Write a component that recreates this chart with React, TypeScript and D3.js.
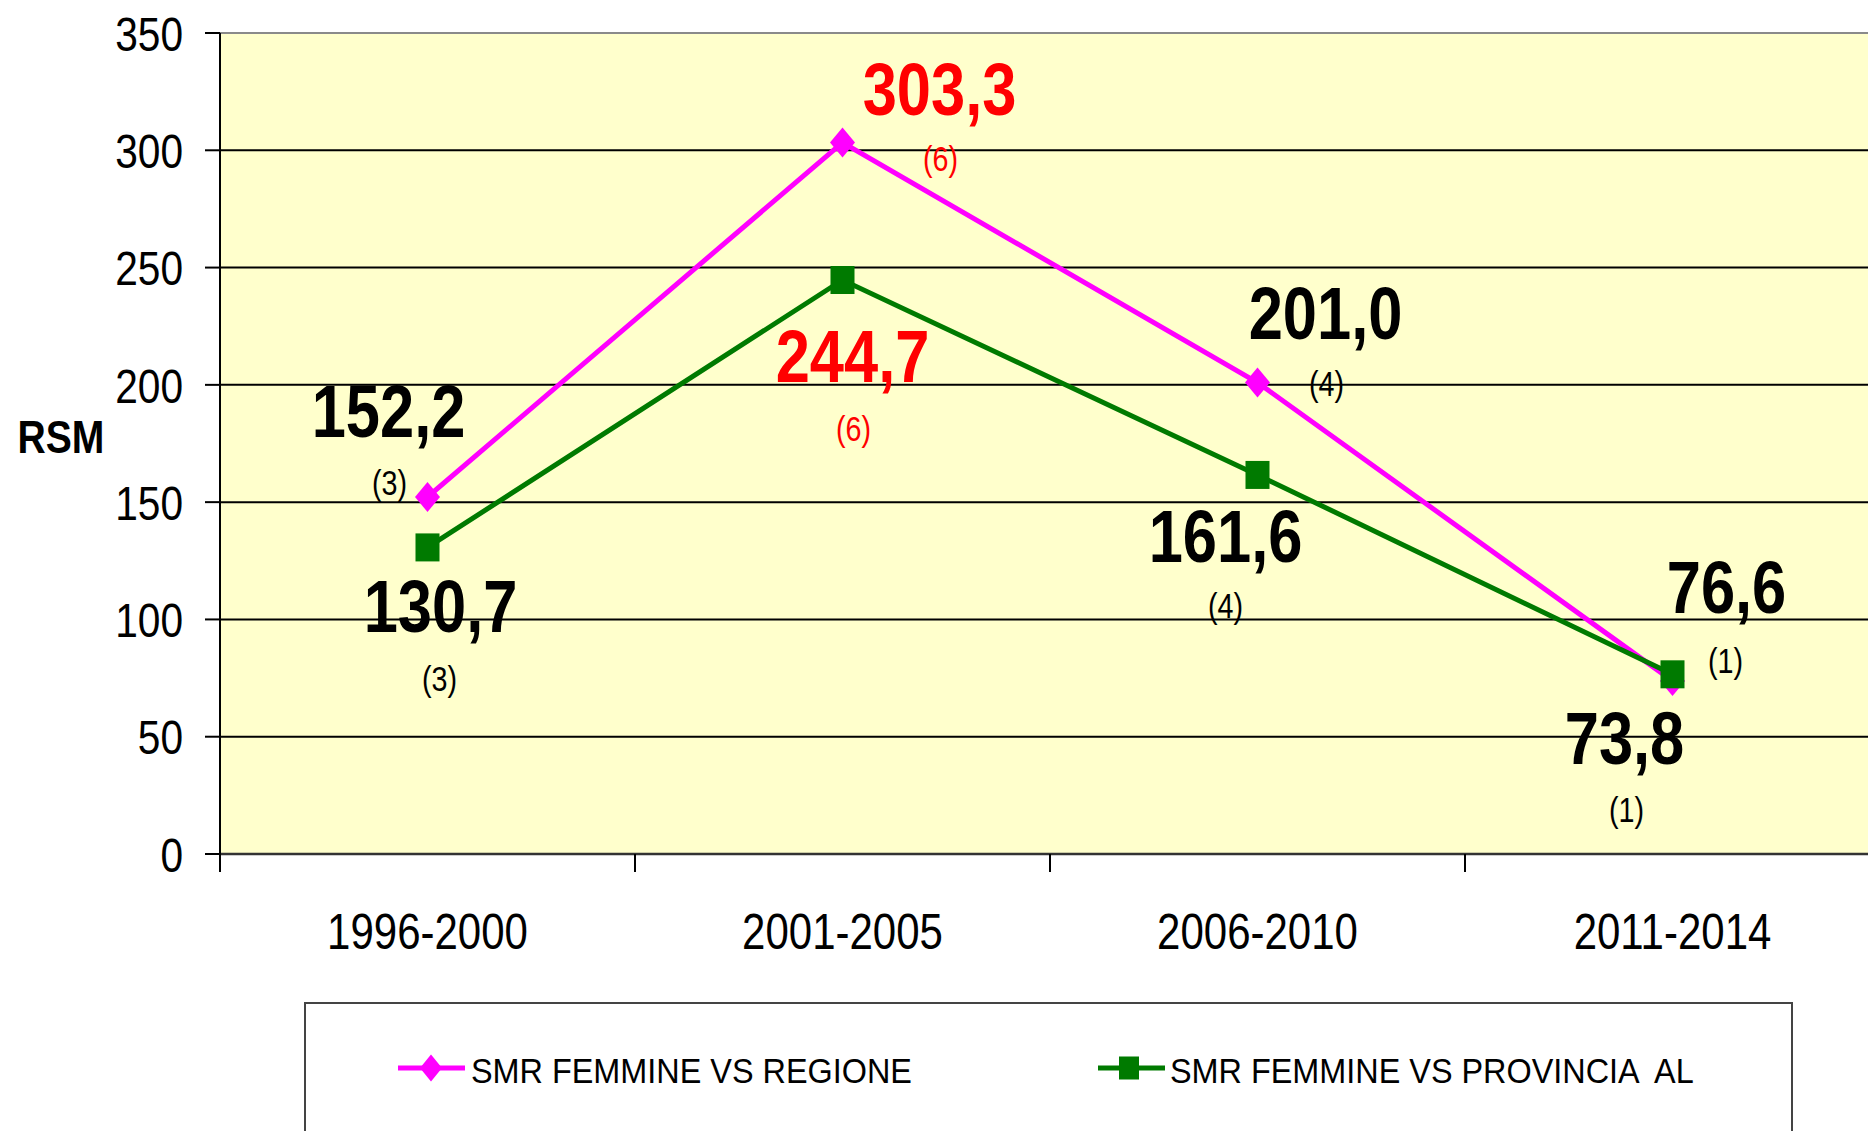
import { scaleBand, scaleLinear, line as d3Line } from 'd3'

const periods = ['1996-2000', '2001-2005', '2006-2010', '2011-2014']
const regioneValues = [152.2, 303.3, 201.0, 73.8]
const provinciaValues = [130.7, 244.7, 161.6, 76.6]
const regioneCases = [3, 6, 4, 1]
const provinciaCases = [3, 6, 4, 1]
const highlighted = ['2001-2005']
const yTicks = [0, 50, 100, 150, 200, 250, 300, 350]
const seriesNames = ['SMR FEMMINE VS REGIONE', 'SMR FEMMINE VS PROVINCIA  AL']

const WIDTH = 1868
const HEIGHT = 1131
const PLOT = { left: 220, top: 33, bottom: 854, band: 415 }
const PINK = '#ff00ff'
const GREEN = '#007a00'
const RED = '#ff0000'
const FONT = 'Liberation Sans, Arial, sans-serif'
// the source picture is stretched vertically, so text is squeezed in x
const SX = 0.83

// label offsets (value label, then case count) from each point, in px
const regioneOffsets = [
  [-39, -87, -38, -15],
  [97, -54, 98, 16],
  [68, -70, 69, 1],
  [-48, 56, -46, 129],
]
const provinciaOffsets = [
  [13, 58, 12, 131],
  [10, 75, 11, 148],
  [-32, 60, -32, 130],
  [54, -88, 53, -14],
]

function Label({ x, y, text, size, bold = false, fill = '#000', sx = SX, anchor = 'middle' }: {
  x: number
  y: number
  text: string
  size: number
  bold?: boolean
  fill?: string
  sx?: number
  anchor?: string
}) {
  return (
    <text
      transform={`translate(${x},${y}) scale(${sx},1)`}
      dy="0.36em"
      fontSize={size}
      fontWeight={bold ? 'bold' : 'normal'}
      fontFamily={FONT}
      fill={fill}
      textAnchor={anchor}
      style={{ whiteSpace: 'pre' }}
    >
      {text}
    </text>
  )
}

function Diamond({ x, y, w, h }: { x: number; y: number; w: number; h: number }) {
  return <path d={`M${x},${y - h / 2}L${x + w / 2},${y}L${x},${y + h / 2}L${x - w / 2},${y}Z`} fill={PINK} />
}

function Square({ x, y, w, h }: { x: number; y: number; w: number; h: number }) {
  return <rect x={x - w / 2} y={y - h / 2} width={w} height={h} fill={GREEN} />
}

export default function App() {
  const x = scaleBand<string>()
    .domain(periods)
    .range([PLOT.left, PLOT.left + PLOT.band * periods.length])
    .padding(0)
  const y = scaleLinear().domain([0, 350]).range([PLOT.bottom, PLOT.top])
  const cx = (p: string) => (x(p) ?? 0) + x.bandwidth() / 2

  const path = d3Line<number>()
    .x((_, i) => cx(periods[i]))
    .y((d) => y(d))

  const fmt = (v: number) => v.toFixed(1).replace('.', ',')

  const labels = (values: number[], cases: number[], offsets: number[][]) =>
    values.map((v, i) => {
      const px = cx(periods[i])
      const py = y(v)
      const [dx1, dy1, dx2, dy2] = offsets[i]
      const color = highlighted.includes(periods[i]) ? RED : '#000'
      return (
        <g key={periods[i]}>
          <Label x={px + dx1} y={py + dy1} text={fmt(v)} size={74} bold fill={color} sx={0.83} />
          <Label x={px + dx2} y={py + dy2} text={`(${cases[i]})`} size={35} fill={color} sx={0.82} />
        </g>
      )
    })

  return (
    <svg
      width={WIDTH}
      height={HEIGHT}
      viewBox={`0 0 ${WIDTH} ${HEIGHT}`}
      style={{ position: 'absolute', left: 0, top: 0, background: '#fff' }}
    >
      <rect x={PLOT.left} y={PLOT.top} width={WIDTH - PLOT.left} height={PLOT.bottom - PLOT.top} fill="#ffffcc" />
      <line x1={PLOT.left} x2={WIDTH} y1={PLOT.top} y2={PLOT.top} stroke="#8a8a8a" strokeWidth={2} />

      {yTicks.map((t) => (
        <g key={t}>
          {t > 0 && t < 350 && (
            <line x1={PLOT.left} x2={WIDTH} y1={y(t)} y2={y(t)} stroke="#000" strokeWidth={2} />
          )}
          <line x1={PLOT.left - 15} x2={PLOT.left} y1={y(t)} y2={y(t)} stroke="#000" strokeWidth={2} />
          <Label x={183} y={y(t)} text={String(t)} size={49} anchor="end" />
        </g>
      ))}

      <line x1={PLOT.left} x2={WIDTH} y1={PLOT.bottom} y2={PLOT.bottom} stroke="#333" strokeWidth={2.5} />
      <line x1={PLOT.left} x2={PLOT.left} y1={PLOT.top} y2={PLOT.bottom + 18} stroke="#000" strokeWidth={2} />
      {periods.slice(1).map((p) => (
        <line key={p} x1={x(p)} x2={x(p)} y1={PLOT.bottom} y2={PLOT.bottom + 18} stroke="#000" strokeWidth={2} />
      ))}
      {periods.map((p) => (
        <Label key={p} x={cx(p)} y={931} text={p} size={50} sx={0.84} />
      ))}

      <Label x={61} y={436} text="RSM" size={46} bold sx={0.85} />

      <path d={path(regioneValues) ?? undefined} fill="none" stroke={PINK} strokeWidth={5} />
      <path d={path(provinciaValues) ?? undefined} fill="none" stroke={GREEN} strokeWidth={5} />
      {regioneValues.map((v, i) => (
        <Diamond key={i} x={cx(periods[i])} y={y(v)} w={25} h={30} />
      ))}
      {provinciaValues.map((v, i) => (
        <Square key={i} x={cx(periods[i])} y={y(v)} w={24} h={28} />
      ))}

      {labels(regioneValues, regioneCases, regioneOffsets)}
      {labels(provinciaValues, provinciaCases, provinciaOffsets)}

      <rect x={305} y={1003} width={1487} height={160} fill="#fff" stroke="#444" strokeWidth={2} />
      <line x1={398} x2={465} y1={1068} y2={1068} stroke={PINK} strokeWidth={5} />
      <Diamond x={431} y={1068} w={22} h={27} />
      <Label x={471} y={1070} text={seriesNames[0]} size={36} sx={0.9} anchor="start" />
      <line x1={1098} x2={1165} y1={1068} y2={1068} stroke={GREEN} strokeWidth={5} />
      <Square x={1129} y={1068} w={20} h={23} />
      <Label x={1170} y={1070} text={seriesNames[1]} size={36} sx={0.9} anchor="start" />
    </svg>
  )
}
